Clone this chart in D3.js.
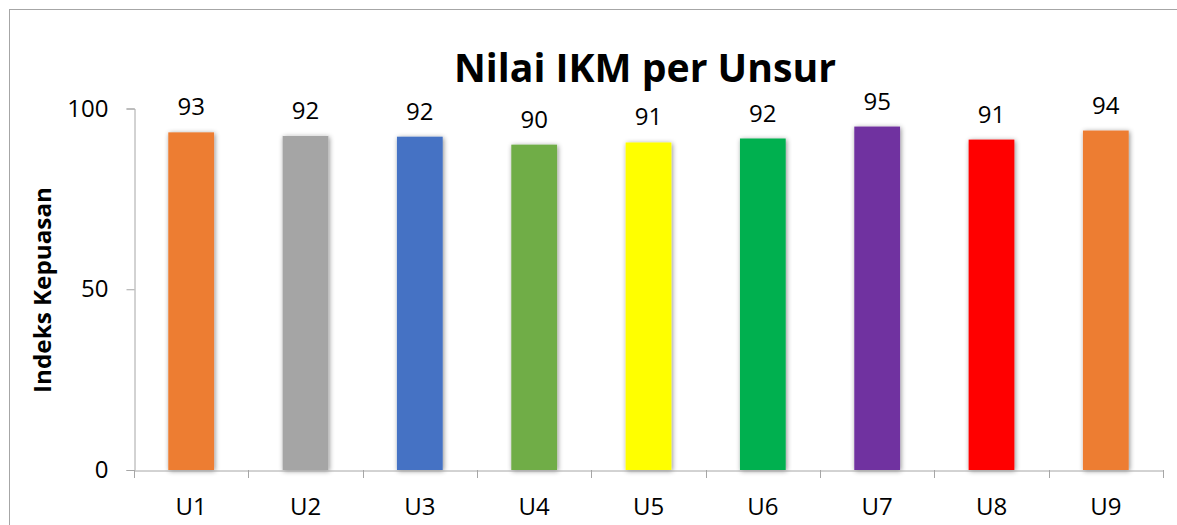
<!DOCTYPE html>
<html>
<head>
<meta charset="utf-8">
<script src="https://cdn.jsdelivr.net/npm/d3@7"></script>
<style>
  html, body { margin: 0; padding: 0; background: #fff; }
  svg { display: block; font-family: "Open Sans", sans-serif; }
</style>
</head>
<body>
<svg id="chart" width="1177" height="525"></svg>
<script>
const categories = ["U1", "U2", "U3", "U4", "U5", "U6", "U7", "U8", "U9"];
const values = [93.4, 92.4, 92.2, 90.0, 90.6, 91.7, 95.0, 91.4, 93.9];
const barColors = ["#ED7D31", "#A5A5A5", "#4472C4", "#70AD47", "#FFFF00", "#00B050", "#7030A0", "#FF0000", "#ED7D31"];
const yTicks = [0, 50, 100];
const title = "Nilai IKM per Unsur";
const yTitle = "Indeks Kepuasan";

const svg = d3.select("#chart");
const axisColor = "#a6a6a6";

// drop shadow
const defs = svg.append("defs");
const f = defs.append("filter").attr("id", "shadow").attr("x", "-30%").attr("y", "-10%").attr("width", "160%").attr("height", "120%");
f.append("feDropShadow").attr("dx", 1).attr("dy", 1).attr("stdDeviation", 2.5)
  .attr("flood-color", "#000").attr("flood-opacity", 0.45);

// chart border (only left/top visible)
svg.append("rect").attr("x", 9.5).attr("y", 9.5).attr("width", 1300).attr("height", 700)
  .attr("fill", "none").attr("stroke", axisColor).attr("stroke-width", 1);

const x = d3.scaleBand().domain(categories).range([134, 1163]).paddingInner(0.6).paddingOuter(0.3);
const y = d3.scaleLinear().domain([0, 100]).range([470, 108.5]);

// bars
svg.append("g").selectAll("rect").data(categories).join("rect")
  .attr("x", d => x(d))
  .attr("y", (d, i) => y(values[i]))
  .attr("width", x.bandwidth())
  .attr("height", (d, i) => y(0) - y(values[i]))
  .attr("fill", (d, i) => barColors[i])
  .attr("filter", "url(#shadow)");

// y axis
const yAxis = svg.append("g").attr("transform", "translate(134.5,0)")
  .call(d3.axisLeft(y).tickValues(yTicks).tickSize(8).tickSizeOuter(8).tickPadding(18).tickFormat(d3.format("d")));
yAxis.selectAll("path, line").attr("stroke", axisColor);
yAxis.selectAll("text").attr("font-size", 24).attr("fill", "#000").attr("font-family", "Open Sans");

// x axis
const xAxis = svg.append("g").attr("transform", "translate(0,470.5)")
  .call(d3.axisBottom(x).tickSize(0).tickSizeOuter(0).tickPadding(0));
xAxis.select("path").attr("stroke", axisColor);
xAxis.selectAll("text").attr("font-size", 24).attr("fill", "#000").attr("font-family", "Open Sans")
  .attr("dy", null).attr("y", 44);
// boundary ticks
const bounds = d3.range(categories.length + 1).map(i => x.range()[0] + i * x.step());
svg.append("g").selectAll("line").data(bounds).join("line")
  .attr("x1", d => Math.round(d) + 0.5).attr("x2", d => Math.round(d) + 0.5)
  .attr("y1", 470).attr("y2", 478)
  .attr("stroke", axisColor);

// value labels
svg.append("g").selectAll("text").data(categories).join("text")
  .attr("x", d => x(d) + x.bandwidth() / 2)
  .attr("y", (d, i) => y(values[i]) - 17)
  .attr("text-anchor", "middle")
  .attr("font-size", 24).attr("fill", "#000")
  .text((d, i) => d3.format(".0f")(values[i]));

// title
svg.append("text").attr("x", 645).attr("y", 82).attr("text-anchor", "middle")
  .attr("font-size", 39).attr("font-weight", "bold").attr("fill", "#000")
  .attr("textLength", 382).attr("lengthAdjust", "spacingAndGlyphs")
  .text(title);

// y title
svg.append("text").attr("transform", "translate(51,290) rotate(-90)").attr("text-anchor", "middle")
  .attr("font-size", 24).attr("font-weight", "bold").attr("fill", "#000")
  .attr("textLength", 206).attr("lengthAdjust", "spacingAndGlyphs")
  .text(yTitle);
</script>
</body>
</html>
